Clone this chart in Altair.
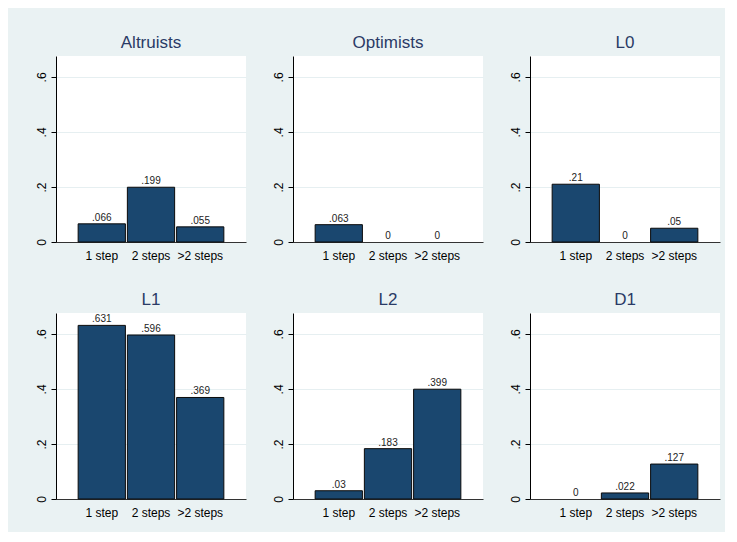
import altair as alt
import pandas as pd

groups = ["Altruists", "Optimists", "L0", "L1", "L2", "D1"]
steps = ["1 step", "2 steps", ">2 steps"]
values = {
    "Altruists": [0.066, 0.199, 0.055],
    "Optimists": [0.063, 0.0, 0.0],
    "L0": [0.21, 0.0, 0.05],
    "L1": [0.631, 0.596, 0.369],
    "L2": [0.03, 0.183, 0.399],
    "D1": [0.0, 0.022, 0.127],
}
y_ticks = [0, 0.2, 0.4, 0.6]


def fmt(v):
    if v == 0:
        return "0"
    s = f"{v:.3f}".rstrip("0")
    return s.lstrip("0")


BG = "#EAF2F3"
BAR = "#1A476F"
TITLE = "#2A3B66"


def panel(g):
    df = pd.DataFrame({"step": steps, "v": values[g]})
    df["lab"] = [fmt(v) for v in df["v"]]
    base = alt.Chart(df)
    x = alt.X("step:N", sort=steps, title=None,
              scale=alt.Scale(domain=steps, paddingInner=0.04, paddingOuter=0.45),
              axis=alt.Axis(labelAngle=0, tickSize=0, labelPadding=8,
                            labelFontSize=12, labelColor="#000000",
                            domainColor="#333333", domainWidth=1))
    y = alt.Y("v:Q", title=None,
              scale=alt.Scale(domain=[0, 0.676], nice=False, zero=True),
              axis=alt.Axis(values=y_ticks, labelAngle=270, tickSize=5,
                            labelPadding=3, labelFontSize=12,
                            labelColor="#000000", domainColor="#000000",
                            tickColor="#000000", grid=True,
                            gridColor="#E6EFF1", gridWidth=1,
                            labelAlign="center", labelBaseline="bottom",
                            labelExpr="datum.value == 0 ? '0' : replace(format(datum.value, '.1f'), '0.', '.')"))
    bars = base.mark_bar(color=BAR, stroke="#0A0A0A", strokeWidth=1).encode(
        x=x, y=y).transform_filter("datum.v > 0")
    text = base.mark_text(baseline="bottom", dy=-1, fontSize=10, color="#222222",
                          font="Liberation Sans").encode(
        x=alt.X("step:N", sort=steps), y=alt.Y("v:Q"), text="lab:N")
    return alt.layer(bars, text).properties(
        width=190, height=186,
        title=alt.TitleParams(g, fontSize=17, color=TITLE, font="Liberation Sans",
                              fontWeight="normal", offset=4),
    )


chart = alt.concat(*[panel(g) for g in groups], columns=3).properties(
    spacing={"row": 71, "column": 47},
    bounds="flush",
    padding={"left": 27, "top": 26, "right": 5, "bottom": 14},
    background=BG,
).configure_view(fill="white", stroke=None).configure_axis(
    labelFont="Liberation Sans", domainColor="#000000"
).configure_title(fontWeight="normal", font="Liberation Sans")

chart.save("out.html", embed_options={"renderer": "svg", "actions": False})
